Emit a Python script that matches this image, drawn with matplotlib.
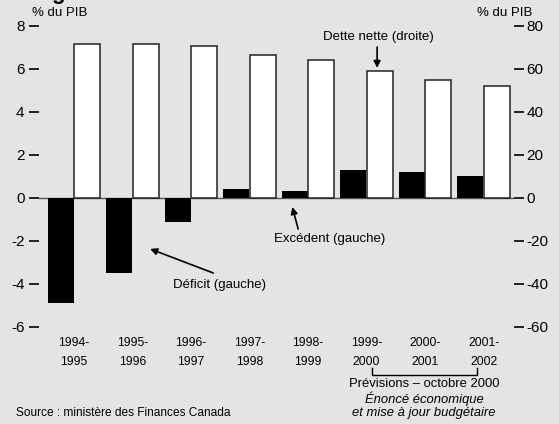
import matplotlib
matplotlib.use('Agg')
import matplotlib.pyplot as plt
import matplotlib.transforms as mtransforms
import numpy as np

plt.rcParams['font.family'] = ['Liberation Sans', 'DejaVu Sans']
plt.rcParams['axes.unicode_minus'] = False

# données (% du PIB)
periodes = ['1994-\n1995', '1995-\n1996', '1996-\n1997', '1997-\n1998',
            '1998-\n1999', '1999-\n2000', '2000-\n2001', '2001-\n2002']
solde = [-4.9, -3.5, -1.1, 0.4, 0.33, 1.3, 1.2, 1.0]          # gauche
dette_nette = [71.6, 71.7, 70.5, 66.6, 64.4, 59.2, 55.0, 52.0]  # droite
ticks_gauche = [-6, -4, -2, 0, 2, 4, 6, 8]
ticks_droite = [-60, -40, -20, 0, 20, 40, 60, 80]

fond = '#e4e4e4'
fig = plt.figure(figsize=(5.59, 4.24), dpi=100, facecolor=fond)
ax = fig.add_axes([0.0698, 0.2288, 0.8497, 0.7099])
ax.set_facecolor(fond)
ax2 = ax.twinx()

x = np.arange(len(periodes))
w = 0.445
ax.axhline(0, color='#555555', lw=1.0, zorder=1)
ax.bar(x - 0.225, solde, width=w, color='black', zorder=2)
ax2.bar(x + 0.225, dette_nette, width=w, color='white', edgecolor='#222222',
        linewidth=1.1, zorder=2)

ax.set_xlim(-0.6, 7.52)
ax.set_ylim(-6, 8)
ax2.set_ylim(-60, 80)
ax.set_yticks(ticks_gauche)
ax.set_yticklabels([str(t) for t in ticks_gauche])
ax2.set_yticks(ticks_droite)
ax2.set_yticklabels([str(t) for t in ticks_droite])
ax.set_xticks(x)
ax.set_xticklabels(periodes, fontsize=8.8, linespacing=1.8)

for a in (ax, ax2):
    for s in a.spines.values():
        s.set_visible(False)
ax.tick_params(axis='y', direction='out', length=7.5, width=1.2, pad=3,
               labelsize=11, color='black')
ax2.tick_params(axis='y', direction='out', length=7, width=1.2, pad=2,
                labelsize=11, color='black')
ax.tick_params(axis='x', length=0, pad=7)

# annotations
txt = dict(fontsize=9.5, ha='center', va='center')
flèche = dict(arrowstyle='-|>', color='black', lw=1.2, mutation_scale=10,
              shrinkA=0, shrinkB=0)
ax2.text(5.205, 74.9, 'Dette nette (droite)', **txt)
ax2.annotate('', xy=(5.18, 60.5), xytext=(5.18, 70.2), arrowprops=flèche)
ax.text(4.37, -1.91, 'Excédent (gauche)', **txt)
ax.annotate('', xy=(3.73, -0.42), xytext=(3.83, -1.44), arrowprops=flèche)
ax.text(2.48, -4.05, 'Déficit (gauche)', **txt)
ax.annotate('', xy=(1.30, -2.37), xytext=(2.38, -3.49), arrowprops=flèche)

# crochet des prévisions
tr = mtransforms.blended_transform_factory(ax.transData, fig.transFigure)
ax.plot([5.09, 5.09, 6.89, 6.89], [0.1321, 0.1156, 0.1156, 0.1321],
        color='black', lw=1.0, transform=tr, clip_on=False)

fig.text(0.7585, 0.0950, 'Prévisions – octobre 2000', fontsize=9.4,
         ha='center', va='center')
fig.text(0.7585, 0.0605, 'Énoncé économique', fontsize=9.4, style='italic',
         ha='center', va='center')
fig.text(0.7585, 0.0259, 'et mise à jour budgétaire', fontsize=9.4,
         style='italic', ha='center', va='center')
fig.text(0.0286, 0.0259, 'Source : ministère des Finances Canada',
         fontsize=8.6, ha='left', va='center')
fig.text(0.107, 0.969, '% du PIB', fontsize=9.5, ha='center', va='center')
fig.text(0.902, 0.969, '% du PIB', fontsize=9.5, ha='center', va='center')
# bas du titre coupé
fig.text(0.104, 1.0035, 'g', fontsize=16, fontweight='bold', ha='center',
         va='baseline')

fig.savefig('out.png', dpi=100, facecolor=fond)
